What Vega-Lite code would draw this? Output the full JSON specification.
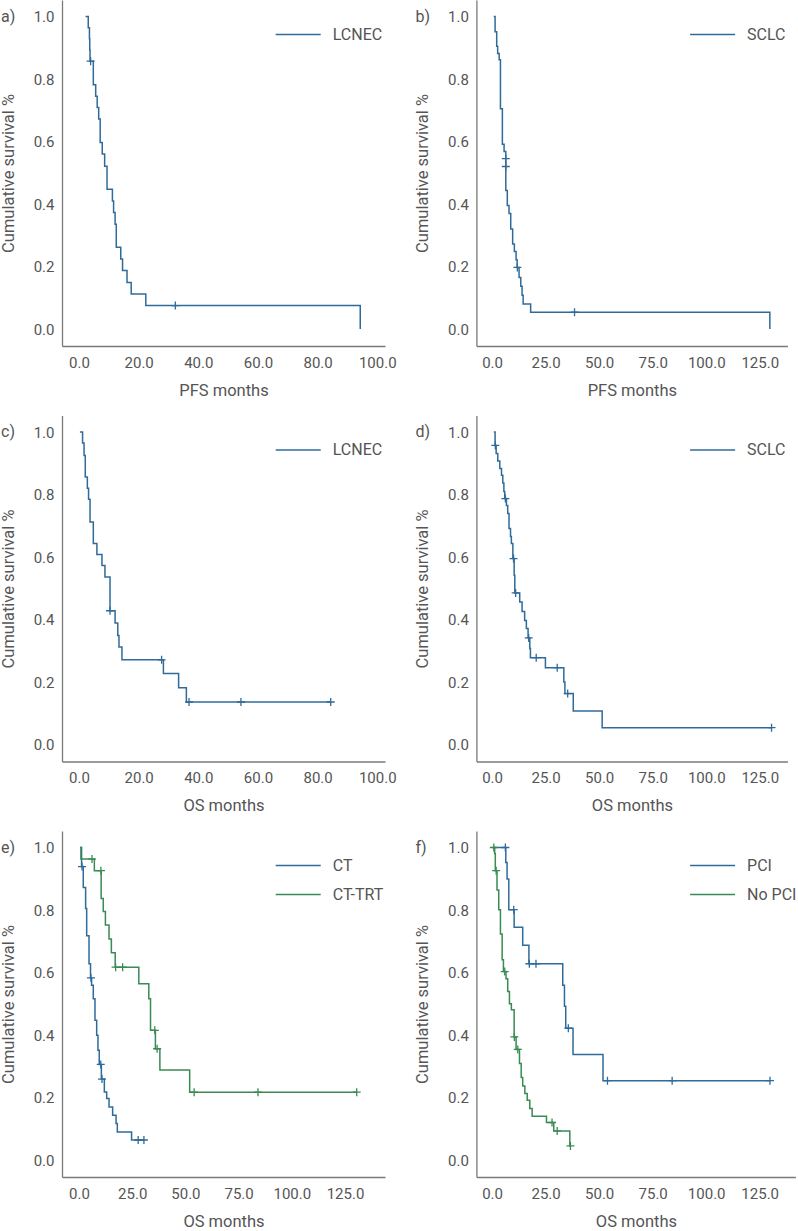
{
  "$schema": "https://vega.github.io/schema/vega-lite/v6.json",
  "padding": {"left": 0, "top": 0, "right": 0, "bottom": 0},
  "background": "white",
  "datasets": {
    "a": [
      {"t": 2.2, "s": 1.0, "g": "LCNEC", "k": "c"}, {"t": 3.1, "s": 0.964, "g": "LCNEC", "k": "c"}, {"t": 3.5, "s": 0.929, "g": "LCNEC", "k": "c"}, {"t": 3.6, "s": 0.893, "g": "LCNEC", "k": "c"}, {"t": 3.7, "s": 0.857, "g": "LCNEC", "k": "c"}, {"t": 4.8, "s": 0.782, "g": "LCNEC", "k": "c"}, {"t": 5.6, "s": 0.745, "g": "LCNEC", "k": "c"}, {"t": 6.1, "s": 0.709, "g": "LCNEC", "k": "c"}, {"t": 6.6, "s": 0.672, "g": "LCNEC", "k": "c"}, {"t": 7.1, "s": 0.597, "g": "LCNEC", "k": "c"}, {"t": 7.8, "s": 0.56, "g": "LCNEC", "k": "c"}, {"t": 8.6, "s": 0.521, "g": "LCNEC", "k": "c"}, {"t": 9.4, "s": 0.447, "g": "LCNEC", "k": "c"}, {"t": 11.2, "s": 0.41, "g": "LCNEC", "k": "c"}, {"t": 11.6, "s": 0.373, "g": "LCNEC", "k": "c"}, {"t": 12.1, "s": 0.335, "g": "LCNEC", "k": "c"}, {"t": 12.5, "s": 0.262, "g": "LCNEC", "k": "c"}, {"t": 14.0, "s": 0.224, "g": "LCNEC", "k": "c"}, {"t": 14.6, "s": 0.187, "g": "LCNEC", "k": "c"}, {"t": 16.1, "s": 0.149, "g": "LCNEC", "k": "c"}, {"t": 17.5, "s": 0.112, "g": "LCNEC", "k": "c"}, {"t": 22.4, "s": 0.075, "g": "LCNEC", "k": "c"}, {"t": 94.3, "s": 0.0, "g": "LCNEC", "k": "c"},
      {"t": 3.9, "s": 0.857, "g": "LCNEC", "k": "x"}, {"t": 32.3, "s": 0.075, "g": "LCNEC", "k": "x"}
    ],
    "b": [
      {"t": 0.75, "s": 1.0, "g": "SCLC", "k": "c"}, {"t": 1.4, "s": 0.951, "g": "SCLC", "k": "c"}, {"t": 2.15, "s": 0.905, "g": "SCLC", "k": "c"}, {"t": 2.6, "s": 0.882, "g": "SCLC", "k": "c"}, {"t": 3.3, "s": 0.862, "g": "SCLC", "k": "c"}, {"t": 3.9, "s": 0.705, "g": "SCLC", "k": "c"}, {"t": 4.8, "s": 0.591, "g": "SCLC", "k": "c"}, {"t": 5.6, "s": 0.568, "g": "SCLC", "k": "c"}, {"t": 6.4, "s": 0.443, "g": "SCLC", "k": "c"}, {"t": 7.1, "s": 0.395, "g": "SCLC", "k": "c"}, {"t": 7.9, "s": 0.37, "g": "SCLC", "k": "c"}, {"t": 8.7, "s": 0.32, "g": "SCLC", "k": "c"}, {"t": 9.6, "s": 0.272, "g": "SCLC", "k": "c"}, {"t": 10.4, "s": 0.248, "g": "SCLC", "k": "c"}, {"t": 11.2, "s": 0.222, "g": "SCLC", "k": "c"}, {"t": 11.7, "s": 0.197, "g": "SCLC", "k": "c"}, {"t": 12.6, "s": 0.165, "g": "SCLC", "k": "c"}, {"t": 13.4, "s": 0.137, "g": "SCLC", "k": "c"}, {"t": 14.0, "s": 0.108, "g": "SCLC", "k": "c"}, {"t": 14.5, "s": 0.08, "g": "SCLC", "k": "c"}, {"t": 18.0, "s": 0.054, "g": "SCLC", "k": "c"}, {"t": 129.7, "s": 0.0, "g": "SCLC", "k": "c"},
      {"t": 6.4, "s": 0.545, "g": "SCLC", "k": "x"}, {"t": 6.4, "s": 0.52, "g": "SCLC", "k": "x"}, {"t": 11.8, "s": 0.197, "g": "SCLC", "k": "x"}, {"t": 38.5, "s": 0.054, "g": "SCLC", "k": "x"}
    ],
    "c": [
      {"t": 0.3, "s": 1.0, "g": "LCNEC", "k": "c"}, {"t": 1.2, "s": 0.965, "g": "LCNEC", "k": "c"}, {"t": 1.7, "s": 0.925, "g": "LCNEC", "k": "c"}, {"t": 2.1, "s": 0.856, "g": "LCNEC", "k": "c"}, {"t": 2.8, "s": 0.82, "g": "LCNEC", "k": "c"}, {"t": 3.2, "s": 0.785, "g": "LCNEC", "k": "c"}, {"t": 3.7, "s": 0.712, "g": "LCNEC", "k": "c"}, {"t": 4.8, "s": 0.643, "g": "LCNEC", "k": "c"}, {"t": 6.0, "s": 0.608, "g": "LCNEC", "k": "c"}, {"t": 7.7, "s": 0.573, "g": "LCNEC", "k": "c"}, {"t": 8.7, "s": 0.536, "g": "LCNEC", "k": "c"}, {"t": 10.4, "s": 0.428, "g": "LCNEC", "k": "c"}, {"t": 12.1, "s": 0.389, "g": "LCNEC", "k": "c"}, {"t": 13.0, "s": 0.349, "g": "LCNEC", "k": "c"}, {"t": 13.4, "s": 0.312, "g": "LCNEC", "k": "c"}, {"t": 14.4, "s": 0.271, "g": "LCNEC", "k": "c"}, {"t": 28.3, "s": 0.227, "g": "LCNEC", "k": "c"}, {"t": 33.4, "s": 0.182, "g": "LCNEC", "k": "c"}, {"t": 36.0, "s": 0.136, "g": "LCNEC", "k": "c"}, {"t": 84.4, "s": 0.136, "g": "LCNEC", "k": "c"},
      {"t": 10.4, "s": 0.428, "g": "LCNEC", "k": "x"}, {"t": 27.7, "s": 0.271, "g": "LCNEC", "k": "x"}, {"t": 36.9, "s": 0.136, "g": "LCNEC", "k": "x"}, {"t": 54.3, "s": 0.136, "g": "LCNEC", "k": "x"}, {"t": 84.4, "s": 0.136, "g": "LCNEC", "k": "x"}
    ],
    "d": [
      {"t": 0.8, "s": 1.0, "g": "SCLC", "k": "c"}, {"t": 1.4, "s": 0.957, "g": "SCLC", "k": "c"}, {"t": 1.9, "s": 0.931, "g": "SCLC", "k": "c"}, {"t": 2.65, "s": 0.907, "g": "SCLC", "k": "c"}, {"t": 3.6, "s": 0.883, "g": "SCLC", "k": "c"}, {"t": 4.4, "s": 0.862, "g": "SCLC", "k": "c"}, {"t": 5.0, "s": 0.837, "g": "SCLC", "k": "c"}, {"t": 5.5, "s": 0.81, "g": "SCLC", "k": "c"}, {"t": 5.9, "s": 0.787, "g": "SCLC", "k": "c"}, {"t": 6.7, "s": 0.765, "g": "SCLC", "k": "c"}, {"t": 7.3, "s": 0.739, "g": "SCLC", "k": "c"}, {"t": 7.9, "s": 0.691, "g": "SCLC", "k": "c"}, {"t": 8.6, "s": 0.666, "g": "SCLC", "k": "c"}, {"t": 9.0, "s": 0.643, "g": "SCLC", "k": "c"}, {"t": 9.7, "s": 0.595, "g": "SCLC", "k": "c"}, {"t": 10.3, "s": 0.542, "g": "SCLC", "k": "c"}, {"t": 10.6, "s": 0.485, "g": "SCLC", "k": "c"}, {"t": 12.9, "s": 0.456, "g": "SCLC", "k": "c"}, {"t": 14.0, "s": 0.426, "g": "SCLC", "k": "c"}, {"t": 15.2, "s": 0.397, "g": "SCLC", "k": "c"}, {"t": 16.0, "s": 0.371, "g": "SCLC", "k": "c"}, {"t": 16.8, "s": 0.341, "g": "SCLC", "k": "c"}, {"t": 17.6, "s": 0.307, "g": "SCLC", "k": "c"}, {"t": 17.9, "s": 0.278, "g": "SCLC", "k": "c"}, {"t": 24.9, "s": 0.246, "g": "SCLC", "k": "c"}, {"t": 33.5, "s": 0.2, "g": "SCLC", "k": "c"}, {"t": 34.0, "s": 0.163, "g": "SCLC", "k": "c"}, {"t": 37.9, "s": 0.107, "g": "SCLC", "k": "c"}, {"t": 51.4, "s": 0.054, "g": "SCLC", "k": "c"}, {"t": 130.5, "s": 0.054, "g": "SCLC", "k": "c"},
      {"t": 1.5, "s": 0.957, "g": "SCLC", "k": "x"}, {"t": 6.2, "s": 0.787, "g": "SCLC", "k": "x"}, {"t": 10.0, "s": 0.595, "g": "SCLC", "k": "x"}, {"t": 11.0, "s": 0.485, "g": "SCLC", "k": "x"}, {"t": 17.1, "s": 0.341, "g": "SCLC", "k": "x"}, {"t": 20.6, "s": 0.278, "g": "SCLC", "k": "x"}, {"t": 30.4, "s": 0.246, "g": "SCLC", "k": "x"}, {"t": 35.3, "s": 0.163, "g": "SCLC", "k": "x"}, {"t": 130.5, "s": 0.054, "g": "SCLC", "k": "x"}
    ],
    "e": [
      {"t": 0.5, "s": 1.0, "g": "CT", "k": "c"}, {"t": 1.2, "s": 0.939, "g": "CT", "k": "c"}, {"t": 2.0, "s": 0.872, "g": "CT", "k": "c"}, {"t": 3.1, "s": 0.805, "g": "CT", "k": "c"}, {"t": 3.6, "s": 0.718, "g": "CT", "k": "c"}, {"t": 4.7, "s": 0.628, "g": "CT", "k": "c"}, {"t": 5.4, "s": 0.583, "g": "CT", "k": "c"}, {"t": 5.9, "s": 0.559, "g": "CT", "k": "c"}, {"t": 6.7, "s": 0.516, "g": "CT", "k": "c"}, {"t": 7.5, "s": 0.447, "g": "CT", "k": "c"}, {"t": 8.3, "s": 0.399, "g": "CT", "k": "c"}, {"t": 8.9, "s": 0.351, "g": "CT", "k": "c"}, {"t": 9.5, "s": 0.306, "g": "CT", "k": "c"}, {"t": 10.5, "s": 0.259, "g": "CT", "k": "c"}, {"t": 11.9, "s": 0.218, "g": "CT", "k": "c"}, {"t": 13.0, "s": 0.197, "g": "CT", "k": "c"}, {"t": 14.1, "s": 0.17, "g": "CT", "k": "c"}, {"t": 15.8, "s": 0.143, "g": "CT", "k": "c"}, {"t": 17.4, "s": 0.117, "g": "CT", "k": "c"}, {"t": 18.0, "s": 0.09, "g": "CT", "k": "c"}, {"t": 24.7, "s": 0.064, "g": "CT", "k": "c"}, {"t": 30.5, "s": 0.064, "g": "CT", "k": "c"},
      {"t": 1.4, "s": 0.939, "g": "CT", "k": "x"}, {"t": 5.6, "s": 0.583, "g": "CT", "k": "x"}, {"t": 10.2, "s": 0.306, "g": "CT", "k": "x"}, {"t": 10.8, "s": 0.259, "g": "CT", "k": "x"}, {"t": 27.8, "s": 0.064, "g": "CT", "k": "x"}, {"t": 30.5, "s": 0.064, "g": "CT", "k": "x"},
      {"t": 0.5, "s": 1.0, "g": "CT-TRT", "k": "c"}, {"t": 0.9, "s": 0.963, "g": "CT-TRT", "k": "c"}, {"t": 7.2, "s": 0.926, "g": "CT-TRT", "k": "c"}, {"t": 10.4, "s": 0.837, "g": "CT-TRT", "k": "c"}, {"t": 11.4, "s": 0.795, "g": "CT-TRT", "k": "c"}, {"t": 12.4, "s": 0.752, "g": "CT-TRT", "k": "c"}, {"t": 14.1, "s": 0.707, "g": "CT-TRT", "k": "c"}, {"t": 15.2, "s": 0.663, "g": "CT-TRT", "k": "c"}, {"t": 17.0, "s": 0.617, "g": "CT-TRT", "k": "c"}, {"t": 28.1, "s": 0.564, "g": "CT-TRT", "k": "c"}, {"t": 32.8, "s": 0.516, "g": "CT-TRT", "k": "c"}, {"t": 33.6, "s": 0.415, "g": "CT-TRT", "k": "c"}, {"t": 35.9, "s": 0.356, "g": "CT-TRT", "k": "c"}, {"t": 38.0, "s": 0.288, "g": "CT-TRT", "k": "c"}, {"t": 52.0, "s": 0.217, "g": "CT-TRT", "k": "c"}, {"t": 130.5, "s": 0.217, "g": "CT-TRT", "k": "c"},
      {"t": 6.1, "s": 0.963, "g": "CT-TRT", "k": "x"}, {"t": 10.3, "s": 0.926, "g": "CT-TRT", "k": "x"}, {"t": 17.2, "s": 0.617, "g": "CT-TRT", "k": "x"}, {"t": 20.5, "s": 0.617, "g": "CT-TRT", "k": "x"}, {"t": 35.6, "s": 0.415, "g": "CT-TRT", "k": "x"}, {"t": 36.7, "s": 0.356, "g": "CT-TRT", "k": "x"}, {"t": 54.1, "s": 0.217, "g": "CT-TRT", "k": "x"}, {"t": 84.1, "s": 0.217, "g": "CT-TRT", "k": "x"}, {"t": 130.5, "s": 0.217, "g": "CT-TRT", "k": "x"}
    ],
    "f": [
      {"t": 0.8, "s": 1.0, "g": "PCI", "k": "c"}, {"t": 6.4, "s": 0.952, "g": "PCI", "k": "c"}, {"t": 7.0, "s": 0.899, "g": "PCI", "k": "c"}, {"t": 7.8, "s": 0.801, "g": "PCI", "k": "c"}, {"t": 10.3, "s": 0.745, "g": "PCI", "k": "c"}, {"t": 14.3, "s": 0.687, "g": "PCI", "k": "c"}, {"t": 17.2, "s": 0.628, "g": "PCI", "k": "c"}, {"t": 33.0, "s": 0.559, "g": "PCI", "k": "c"}, {"t": 33.8, "s": 0.492, "g": "PCI", "k": "c"}, {"t": 34.4, "s": 0.422, "g": "PCI", "k": "c"}, {"t": 37.8, "s": 0.338, "g": "PCI", "k": "c"}, {"t": 51.8, "s": 0.254, "g": "PCI", "k": "c"}, {"t": 129.8, "s": 0.254, "g": "PCI", "k": "c"},
      {"t": 6.2, "s": 1.0, "g": "PCI", "k": "x"}, {"t": 10.1, "s": 0.801, "g": "PCI", "k": "x"}, {"t": 17.4, "s": 0.628, "g": "PCI", "k": "x"}, {"t": 20.5, "s": 0.628, "g": "PCI", "k": "x"}, {"t": 35.6, "s": 0.422, "g": "PCI", "k": "x"}, {"t": 53.9, "s": 0.254, "g": "PCI", "k": "x"}, {"t": 84.1, "s": 0.254, "g": "PCI", "k": "x"}, {"t": 129.8, "s": 0.254, "g": "PCI", "k": "x"},
      {"t": 0.0, "s": 1.0, "g": "No PCI", "k": "c"}, {"t": 1.2, "s": 0.981, "g": "No PCI", "k": "c"}, {"t": 1.5, "s": 0.926, "g": "No PCI", "k": "c"}, {"t": 2.3, "s": 0.864, "g": "No PCI", "k": "c"}, {"t": 3.1, "s": 0.801, "g": "No PCI", "k": "c"}, {"t": 3.9, "s": 0.723, "g": "No PCI", "k": "c"}, {"t": 4.7, "s": 0.641, "g": "No PCI", "k": "c"}, {"t": 5.3, "s": 0.603, "g": "No PCI", "k": "c"}, {"t": 6.5, "s": 0.58, "g": "No PCI", "k": "c"}, {"t": 7.3, "s": 0.539, "g": "No PCI", "k": "c"}, {"t": 8.1, "s": 0.5, "g": "No PCI", "k": "c"}, {"t": 9.0, "s": 0.481, "g": "No PCI", "k": "c"}, {"t": 10.3, "s": 0.394, "g": "No PCI", "k": "c"}, {"t": 11.2, "s": 0.354, "g": "No PCI", "k": "c"}, {"t": 12.8, "s": 0.309, "g": "No PCI", "k": "c"}, {"t": 13.6, "s": 0.264, "g": "No PCI", "k": "c"}, {"t": 14.3, "s": 0.237, "g": "No PCI", "k": "c"}, {"t": 15.3, "s": 0.213, "g": "No PCI", "k": "c"}, {"t": 16.4, "s": 0.191, "g": "No PCI", "k": "c"}, {"t": 17.6, "s": 0.165, "g": "No PCI", "k": "c"}, {"t": 18.7, "s": 0.14, "g": "No PCI", "k": "c"}, {"t": 25.4, "s": 0.12, "g": "No PCI", "k": "c"}, {"t": 28.8, "s": 0.093, "g": "No PCI", "k": "c"}, {"t": 36.3, "s": 0.045, "g": "No PCI", "k": "c"}, {"t": 36.6, "s": 0.045, "g": "No PCI", "k": "c"},
      {"t": 0.8, "s": 1.0, "g": "No PCI", "k": "x"}, {"t": 1.9, "s": 0.926, "g": "No PCI", "k": "x"}, {"t": 5.9, "s": 0.603, "g": "No PCI", "k": "x"}, {"t": 10.4, "s": 0.394, "g": "No PCI", "k": "x"}, {"t": 12.0, "s": 0.354, "g": "No PCI", "k": "x"}, {"t": 28.0, "s": 0.12, "g": "No PCI", "k": "x"}, {"t": 30.4, "s": 0.093, "g": "No PCI", "k": "x"}, {"t": 36.6, "s": 0.045, "g": "No PCI", "k": "x"}
    ]
  },
  "columns": 2,
  "spacing": {"row": 16.5, "column": 17.4},
  "concat": [
    {
      "width": 323, "height": 346,
      "title": {"text": "a)"},
      "data": {"name": "a"},
      "layer": [
        {"transform": [{"filter": "datum.k == 'c'"}], "mark": {"type": "line", "interpolate": "step-after", "strokeWidth": 1.5},
         "encoding": {
           "x": {"field": "t", "type": "quantitative", "scale": {"domain": [-5.7, 102.6], "nice": false, "zero": false}, "axis": {"values": [0, 20, 40, 60, 80, 100], "format": ".1f", "title": "PFS months"}},
           "y": {"field": "s", "type": "quantitative", "scale": {"domain": [-0.0544, 1.0528], "nice": false, "zero": false}, "axis": {"values": [0, 0.2, 0.4, 0.6, 0.8, 1], "format": ".1f", "title": "Cumulative survival %"}},
           "color": {"field": "g", "type": "nominal", "scale": {"domain": ["LCNEC"], "range": ["#2f6b9a"]},
             "legend": {"orient": "none", "legendX": 227.7, "legendY": 26, "title": null, "symbolType": "M-3,0H3", "symbolSize": 225, "symbolStrokeWidth": 1.5, "labelFontSize": 16, "labelColor": "#555555", "labelFont": "Roboto", "labelOffset": 26, "rowPadding": 12, "padding": 0}}}},
        {"transform": [{"filter": "datum.k == 'x'"}], "mark": {"type": "point", "shape": "M-1,0H1M0,-1V1", "filled": false, "size": 64, "strokeWidth": 1.3, "opacity": 1},
         "encoding": {"x": {"field": "t", "type": "quantitative"}, "y": {"field": "s", "type": "quantitative"},
           "stroke": {"field": "g", "type": "nominal", "scale": {"domain": ["LCNEC"], "range": ["#2f6b9a"]}, "legend": null}}}
      ]
    },
    {
      "width": 311, "height": 346,
      "title": {"text": "b)"},
      "data": {"name": "b"},
      "layer": [
        {"transform": [{"filter": "datum.k == 'c'"}], "mark": {"type": "line", "interpolate": "step-after", "strokeWidth": 1.5},
         "encoding": {
           "x": {"field": "t", "type": "quantitative", "scale": {"domain": [-7.33, 137.9], "nice": false, "zero": false}, "axis": {"values": [0, 25, 50, 75, 100, 125], "format": ".1f", "title": "PFS months"}},
           "y": {"field": "s", "type": "quantitative", "scale": {"domain": [-0.0544, 1.0528], "nice": false, "zero": false}, "axis": {"values": [0, 0.2, 0.4, 0.6, 0.8, 1], "format": ".1f", "title": "Cumulative survival %"}},
           "color": {"field": "g", "type": "nominal", "scale": {"domain": ["SCLC"], "range": ["#2f6b9a"]},
             "legend": {"orient": "none", "legendX": 227.7, "legendY": 26, "title": null, "symbolType": "M-3,0H3", "symbolSize": 225, "symbolStrokeWidth": 1.5, "labelFontSize": 16, "labelColor": "#555555", "labelFont": "Roboto", "labelOffset": 26, "rowPadding": 12, "padding": 0}}}},
        {"transform": [{"filter": "datum.k == 'x'"}], "mark": {"type": "point", "shape": "M-1,0H1M0,-1V1", "filled": false, "size": 64, "strokeWidth": 1.3, "opacity": 1},
         "encoding": {"x": {"field": "t", "type": "quantitative"}, "y": {"field": "s", "type": "quantitative"},
           "stroke": {"field": "g", "type": "nominal", "scale": {"domain": ["SCLC"], "range": ["#2f6b9a"]}, "legend": null}}}
      ]
    },
    {
      "width": 323, "height": 346,
      "title": {"text": "c)"},
      "data": {"name": "c"},
      "layer": [
        {"transform": [{"filter": "datum.k == 'c'"}], "mark": {"type": "line", "interpolate": "step-after", "strokeWidth": 1.5},
         "encoding": {
           "x": {"field": "t", "type": "quantitative", "scale": {"domain": [-5.7, 102.6], "nice": false, "zero": false}, "axis": {"values": [0, 20, 40, 60, 80, 100], "format": ".1f", "title": "OS months"}},
           "y": {"field": "s", "type": "quantitative", "scale": {"domain": [-0.0544, 1.0528], "nice": false, "zero": false}, "axis": {"values": [0, 0.2, 0.4, 0.6, 0.8, 1], "format": ".1f", "title": "Cumulative survival %"}},
           "color": {"field": "g", "type": "nominal", "scale": {"domain": ["LCNEC"], "range": ["#2f6b9a"]},
             "legend": {"orient": "none", "legendX": 227.7, "legendY": 26, "title": null, "symbolType": "M-3,0H3", "symbolSize": 225, "symbolStrokeWidth": 1.5, "labelFontSize": 16, "labelColor": "#555555", "labelFont": "Roboto", "labelOffset": 26, "rowPadding": 12, "padding": 0}}}},
        {"transform": [{"filter": "datum.k == 'x'"}], "mark": {"type": "point", "shape": "M-1,0H1M0,-1V1", "filled": false, "size": 64, "strokeWidth": 1.3, "opacity": 1},
         "encoding": {"x": {"field": "t", "type": "quantitative"}, "y": {"field": "s", "type": "quantitative"},
           "stroke": {"field": "g", "type": "nominal", "scale": {"domain": ["LCNEC"], "range": ["#2f6b9a"]}, "legend": null}}}
      ]
    },
    {
      "width": 311, "height": 346,
      "title": {"text": "d)"},
      "data": {"name": "d"},
      "layer": [
        {"transform": [{"filter": "datum.k == 'c'"}], "mark": {"type": "line", "interpolate": "step-after", "strokeWidth": 1.5},
         "encoding": {
           "x": {"field": "t", "type": "quantitative", "scale": {"domain": [-7.33, 137.9], "nice": false, "zero": false}, "axis": {"values": [0, 25, 50, 75, 100, 125], "format": ".1f", "title": "OS months"}},
           "y": {"field": "s", "type": "quantitative", "scale": {"domain": [-0.0544, 1.0528], "nice": false, "zero": false}, "axis": {"values": [0, 0.2, 0.4, 0.6, 0.8, 1], "format": ".1f", "title": "Cumulative survival %"}},
           "color": {"field": "g", "type": "nominal", "scale": {"domain": ["SCLC"], "range": ["#2f6b9a"]},
             "legend": {"orient": "none", "legendX": 227.7, "legendY": 26, "title": null, "symbolType": "M-3,0H3", "symbolSize": 225, "symbolStrokeWidth": 1.5, "labelFontSize": 16, "labelColor": "#555555", "labelFont": "Roboto", "labelOffset": 26, "rowPadding": 12, "padding": 0}}}},
        {"transform": [{"filter": "datum.k == 'x'"}], "mark": {"type": "point", "shape": "M-1,0H1M0,-1V1", "filled": false, "size": 64, "strokeWidth": 1.3, "opacity": 1},
         "encoding": {"x": {"field": "t", "type": "quantitative"}, "y": {"field": "s", "type": "quantitative"},
           "stroke": {"field": "g", "type": "nominal", "scale": {"domain": ["SCLC"], "range": ["#2f6b9a"]}, "legend": null}}}
      ]
    },
    {
      "width": 323, "height": 346,
      "title": {"text": "e)"},
      "data": {"name": "e"},
      "layer": [
        {"transform": [{"filter": "datum.k == 'c'"}], "mark": {"type": "line", "interpolate": "step-after", "strokeWidth": 1.5},
         "encoding": {
           "x": {"field": "t", "type": "quantitative", "scale": {"domain": [-8.0, 143.8], "nice": false, "zero": false}, "axis": {"values": [0, 25, 50, 75, 100, 125], "format": ".1f", "title": "OS months"}},
           "y": {"field": "s", "type": "quantitative", "scale": {"domain": [-0.0544, 1.0528], "nice": false, "zero": false}, "axis": {"values": [0, 0.2, 0.4, 0.6, 0.8, 1], "format": ".1f", "title": "Cumulative survival %"}},
           "color": {"field": "g", "type": "nominal", "scale": {"domain": ["CT", "CT-TRT"], "range": ["#2f6b9a", "#3a8a55"]},
             "legend": {"orient": "none", "legendX": 227.7, "legendY": 26, "title": null, "symbolType": "M-3,0H3", "symbolSize": 225, "symbolStrokeWidth": 1.5, "labelFontSize": 16, "labelColor": "#555555", "labelFont": "Roboto", "labelOffset": 26, "rowPadding": 12, "padding": 0}}}},
        {"transform": [{"filter": "datum.k == 'x'"}], "mark": {"type": "point", "shape": "M-1,0H1M0,-1V1", "filled": false, "size": 64, "strokeWidth": 1.3, "opacity": 1},
         "encoding": {"x": {"field": "t", "type": "quantitative"}, "y": {"field": "s", "type": "quantitative"},
           "stroke": {"field": "g", "type": "nominal", "scale": {"domain": ["CT", "CT-TRT"], "range": ["#2f6b9a", "#3a8a55"]}, "legend": null}}}
      ]
    },
    {
      "width": 319, "height": 346,
      "title": {"text": "f)"},
      "data": {"name": "f"},
      "layer": [
        {"transform": [{"filter": "datum.k == 'c'"}], "mark": {"type": "line", "interpolate": "step-after", "strokeWidth": 1.5},
         "encoding": {
           "x": {"field": "t", "type": "quantitative", "scale": {"domain": [-7.33, 141.67], "nice": false, "zero": false}, "axis": {"values": [0, 25, 50, 75, 100, 125], "format": ".1f", "title": "OS months"}},
           "y": {"field": "s", "type": "quantitative", "scale": {"domain": [-0.0544, 1.0528], "nice": false, "zero": false}, "axis": {"values": [0, 0.2, 0.4, 0.6, 0.8, 1], "format": ".1f", "title": "Cumulative survival %"}},
           "color": {"field": "g", "type": "nominal", "scale": {"domain": ["PCI", "No PCI"], "range": ["#2f6b9a", "#3a8a55"]},
             "legend": {"orient": "none", "legendX": 227.7, "legendY": 26, "title": null, "symbolType": "M-3,0H3", "symbolSize": 225, "symbolStrokeWidth": 1.5, "labelFontSize": 16, "labelColor": "#555555", "labelFont": "Roboto", "labelOffset": 26, "rowPadding": 12, "padding": 0}}}},
        {"transform": [{"filter": "datum.k == 'x'"}], "mark": {"type": "point", "shape": "M-1,0H1M0,-1V1", "filled": false, "size": 64, "strokeWidth": 1.3, "opacity": 1},
         "encoding": {"x": {"field": "t", "type": "quantitative"}, "y": {"field": "s", "type": "quantitative"},
           "stroke": {"field": "g", "type": "nominal", "scale": {"domain": ["PCI", "No PCI"], "range": ["#2f6b9a", "#3a8a55"]}, "legend": null}}}
      ]
    }
  ],
  "resolve": {"scale": {"color": "independent", "stroke": "independent"}, "legend": {"color": "independent"}},
  "config": {
    "font": "Roboto",
    "view": {"stroke": null},
    "axis": {"domainColor": "#7a7a7a", "domainWidth": 1.3, "labelColor": "#555555", "titleColor": "#555555", "labelFont": "Roboto", "titleFont": "Roboto", "labelFontSize": 15, "titleFontSize": 16.5, "titleFontWeight": "normal", "ticks": false, "grid": false, "labelFlush": false, "labelOverlap": false},
    "axisX": {"labelPadding": 9, "titlePadding": 12},
    "axisY": {"labelPadding": 8, "titlePadding": 17},
    "title": {"anchor": "start", "frame": "group", "fontSize": 16, "fontWeight": "normal", "color": "#555555", "font": "Roboto", "dx": -61, "dy": 28.5, "baseline": "middle", "offset": 0}
  }
}
